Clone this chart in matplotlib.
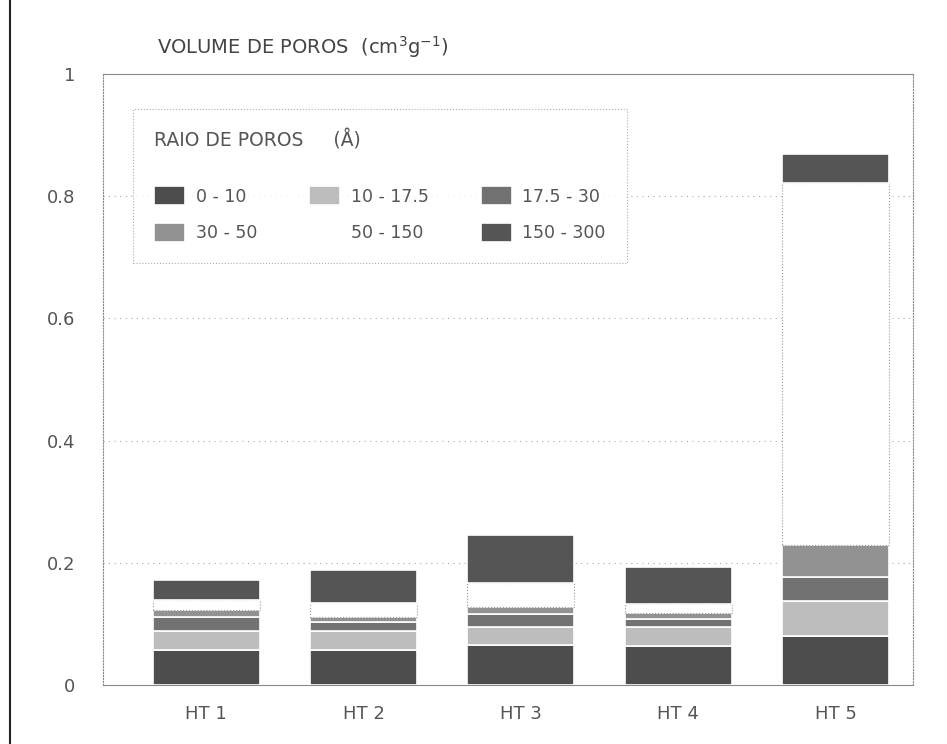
import matplotlib.pyplot as plt
import numpy as np

# amostras e volumes de poros por faixa de raio (cm3/g)
amostras = ['HT 1', 'HT 2', 'HT 3', 'HT 4', 'HT 5']
faixas = ['0 - 10', '10 - 17.5', '17.5 - 30', '30 - 50', '50 - 150', '150 - 300']
v_0_10 = [0.057, 0.057, 0.066, 0.064, 0.080]
v_10_17 = [0.032, 0.031, 0.029, 0.031, 0.058]
v_17_30 = [0.022, 0.016, 0.021, 0.013, 0.039]
v_30_50 = [0.012, 0.008, 0.012, 0.010, 0.053]
v_50_150 = [0.016, 0.023, 0.039, 0.015, 0.591]
v_150_300 = [0.033, 0.054, 0.079, 0.060, 0.048]
y_ticks = [0, 0.2, 0.4, 0.6, 0.8, 1]
y_tick_labels = ['0', '0.2', '0.4', '0.6', '0.8', '1']

series = [v_0_10, v_10_17, v_17_30, v_30_50, v_50_150, v_150_300]
cores = ['#4d4d4d', '#bdbdbd', '#727272', '#929292', '#ffffff', '#555555']
txt = '#555555'

fig = plt.figure(figsize=(9.47, 7.44), dpi=100)
ax = fig.add_axes([0.109, 0.079, 0.855, 0.822])

x = np.arange(len(amostras))
base = np.zeros(len(amostras))
handles = []
for nome, vals, cor in zip(faixas, series, cores):
    if cor == '#ffffff':
        b = ax.bar(x, vals, 0.68, bottom=base, color=cor, edgecolor='#999999',
                   linewidth=0.8, linestyle=':', label=nome, zorder=3)
    else:
        b = ax.bar(x, vals, 0.68, bottom=base, color=cor, edgecolor='white',
                   linewidth=1.2, label=nome, zorder=3)
    handles.append(b)
    base = base + np.array(vals)

ax.set_xlim(-0.654, 4.49)
ax.set_ylim(0, 1)
ax.set_yticks(y_ticks)
ax.set_yticklabels(y_tick_labels)
ax.set_xticks(x)
ax.set_xticklabels(amostras)
ax.tick_params(length=0, labelsize=13, colors=txt)
ax.tick_params(axis='y', pad=20)
ax.tick_params(axis='x', pad=14)

for yv in y_ticks[1:-1]:
    ax.axhline(yv, color='#aaaaaa', linestyle=(0, (1, 4)), linewidth=0.8, zorder=1)

for s in ['left', 'right', 'top', 'bottom']:
    ax.spines[s].set_color('#888888')
    ax.spines[s].set_linewidth(0.8)
ax.spines['left'].set_linestyle(':')
ax.spines['right'].set_linestyle(':')

# legenda em linhas: 0-10, 10-17.5, 17.5-30 / 30-50, 50-150, 150-300
ordem = [0, 3, 1, 4, 2, 5]
leg = ax.legend([handles[i] for i in ordem], [faixas[i] for i in ordem],
                ncol=3, loc='upper left', bbox_to_anchor=(0.037, 0.943),
                borderaxespad=0,
                title='RAIO DE POROS     (Å)', fontsize=12.5, title_fontsize=13.5,
                frameon=True, fancybox=False, edgecolor='#999999',
                handlelength=1.8, handleheight=1.3, columnspacing=3.0,
                labelspacing=1.0, borderpad=1.2, handletextpad=0.6)
leg.get_frame().set_linewidth(0.8)
leg.get_frame().set_linestyle(':')
leg._legend_box.align = 'left'
leg._legend_box.sep = 26
leg.legend_handles[3].set_edgecolor('none')
for t in leg.get_texts():
    t.set_color(txt)
leg.get_title().set_color(txt)

fig.text(0.166, 0.937, 'VOLUME DE POROS  (cm$^3$g$^{-1}$)', fontsize=14,
         color='#444444', va='center', ha='left')

fig.add_artist(plt.Line2D([0.011, 0.011], [0.0, 1.0], color='#222222', linewidth=1.5))

fig.savefig('out.png', dpi=100)
